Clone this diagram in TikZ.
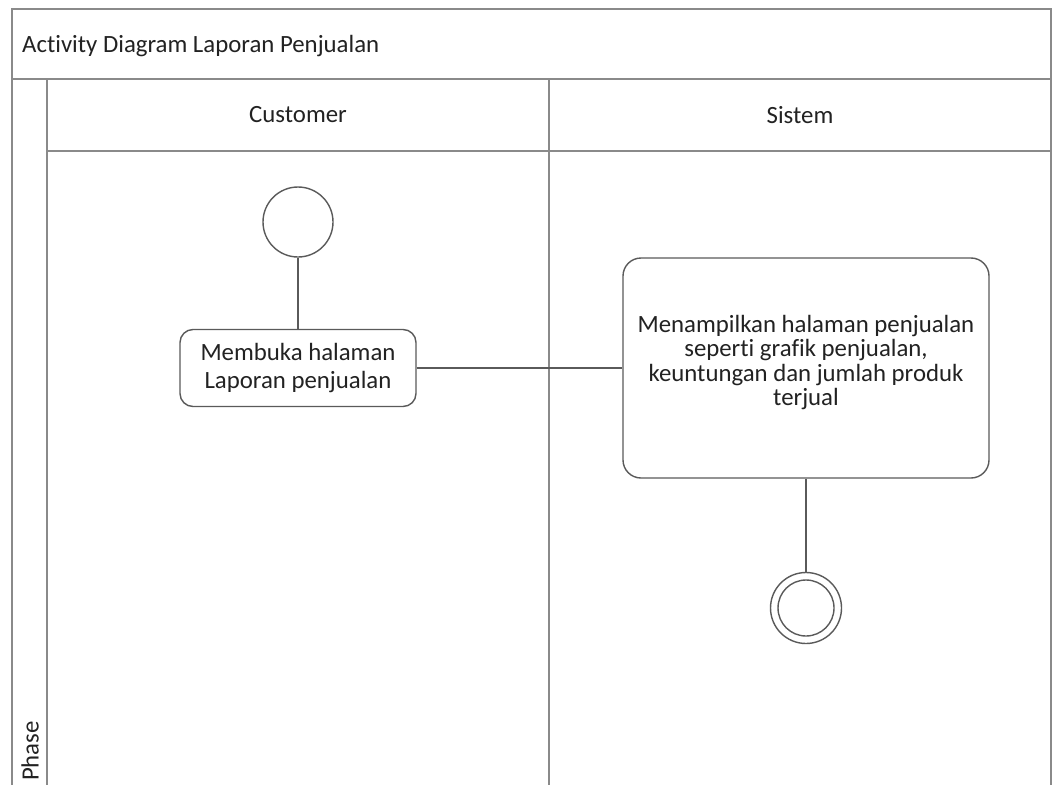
\documentclass[tikz,border=0pt]{standalone}
\usepackage{fontspec}
\setmainfont{Carlito}[Ligatures={NoCommon}]
\definecolor{framegray}{HTML}{8A8A8A}
\definecolor{linegray}{HTML}{5A5A5A}
\definecolor{txt}{HTML}{222222}
\begin{document}
\begin{tikzpicture}[x=1pt,y=-1pt,
  lane/.style={draw=framegray, line width=2.4pt},
  lbl/.style={inner sep=0pt, text=txt, font=\fontsize{24.8}{28}\selectfont},
  act/.style={draw=linegray, line width=1.4pt, fill=white, align=center, text=txt, inner sep=4pt},
  flow/.style={draw=linegray, line width=1.4pt},
  startnode/.style={circle, draw=linegray, line width=1.4pt, fill=white, minimum size=70pt, inner sep=0pt},
  endouter/.style={circle, draw=linegray, line width=1.4pt, fill=white, minimum size=71pt, inner sep=0pt},
  endinner/.style={circle, draw=linegray, line width=1.4pt, minimum size=56pt, inner sep=0pt}]
\useasboundingbox (0,0) rectangle (1056,784);
\fill[white] (0,0) rectangle (1056,784);
% swimlane frame
\draw[lane] (12,790) -- (12,9) -- (1051,9) -- (1051,790);
\draw[lane] (12,79) -- (1051,79);
\draw[lane] (47,79) -- (47,790);
\draw[lane] (47,151) -- (1051,151);
\draw[lane] (549,79) -- (549,790);
% labels
\node[lbl, anchor=west] (title) at (22,46) {Activity Diagram Laporan Penjualan};
\node[lbl] (cust) at (298,115) {Customer};
\node[lbl] (sis) at (800,115) {Sistem};
\node[lbl, rotate=90] (phase) at (30,751) {Phase};
% activity nodes
\node[startnode] (start) at (298,222) {};
\node[act, rounded corners=13pt, minimum width=236pt, minimum height=77pt,
      font=\fontsize{24.8}{28}\selectfont] (open) at (298,368) {Membuka halaman\\Laporan penjualan};
\node[act, rounded corners=18pt, minimum width=366pt, minimum height=220pt, text depth=15pt,
      font=\fontsize{24.8}{24.5}\selectfont] (show) at (806,368)
      {Menampilkan halaman penjualan\\seperti grafik penjualan,\\keuntungan dan jumlah produk\\terjual};
\node[endouter] (final) at (806,608) {};
\node[endinner] (finalin) at (final.center) {};
% connectors
\draw[flow] (start) -- (open);
\draw[flow] (open) -- (show);
\draw[flow] (show) -- (final);
\end{tikzpicture}
\end{document}
